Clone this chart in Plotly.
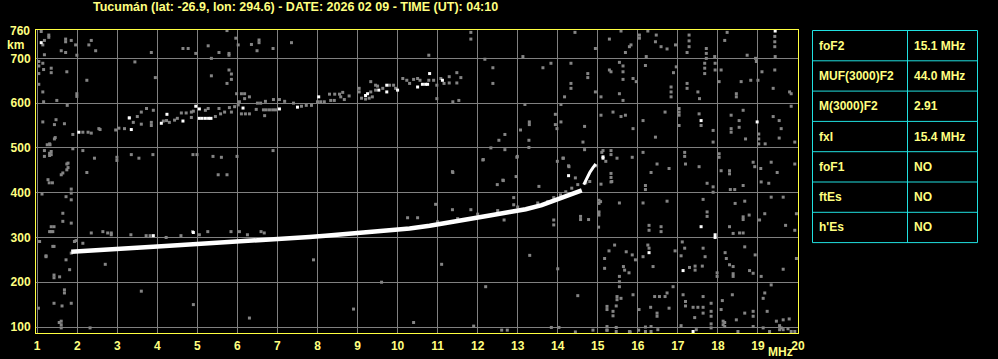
import plotly.graph_objects as go

# ---------------- data ----------------
TITLE = "Tucumán (lat: -26.9, lon: 294.6) - DATE: 2026 02 09 - TIME (UT): 04:10"
X_TICKS = list(range(1, 21))
Y_TICKS = [100, 200, 300, 400, 500, 600, 700]

TABLE_LABELS = ["foF2", "MUF(3000)F2", "M(3000)F2", "fxI", "foF1", "ftEs", "h'Es"]
TABLE_VALUES = ["15.1 MHz", "44.0 MHz", "2.91", "15.4 MHz", "NO", "NO", "NO"]

# main F-trace (white)
main_f = [1.85, 2.3, 3.0, 3.5, 4.0, 4.6, 5.2, 5.8, 6.5, 7.1, 7.8, 8.2, 8.8, 9.3, 9.8,
          10.3, 10.8, 11.3, 11.8, 12.3, 12.8, 13.2, 13.6, 14.0, 14.3, 14.6]
main_h = [268, 270, 274, 277, 280, 283, 286, 289, 293, 297, 301, 304, 308, 311, 315,
          320, 326, 333, 341, 349, 357, 363, 372, 385, 393, 405]
upper_f = [14.65, 14.72, 14.8, 14.88, 14.95]
upper_h = [418, 432, 445, 456, 464]

# grey echoes accompanying the main trace
near_f = [11.0, 11.5, 12.0, 12.5, 13.0, 13.5, 13.75, 13.9, 14.07, 14.2, 14.35, 14.5, 14.7,
          12.9, 12.9, 10.95, 12.66, 13.9, 13.9, 14.57, 14.57, 14.77, 10.25, 10.5]
near_h = [335, 342, 352, 360, 368, 377, 380, 389, 395, 402, 410, 418, 422,
          389, 373, 374, 339, 339, 328, 347, 340, 340, 344, 344]

# second hop (grey)
hop_f = [1.89, 2.14, 2.27, 2.35, 2.54, 2.57, 2.96, 3.04, 3.18, 3.3, 3.4, 3.5, 3.6, 3.73, 3.6,
         3.85, 3.85, 3.9, 4.15, 4.23, 4.3, 4.43, 4.5, 4.6, 4.72, 4.85, 4.9, 4.85, 5.2, 5.27,
         5.45, 5.58, 5.68, 5.54, 5.8, 5.93, 6.02, 5.85, 5.98, 6.1, 6.18, 6.18, 6.3, 6.05, 6.1,
         6.2, 6.3, 6.5, 6.58, 6.7, 6.65, 6.72, 6.8, 6.88, 6.95, 6.9, 7.05, 7.18, 7.4, 7.6,
         7.72, 7.85, 6.47, 6.68,
         8.0, 8.08, 8.17, 8.3, 8.43, 8.55, 8.63, 8.33, 8.42, 8.58, 8.67, 8.79, 9.04, 9.1, 9.2,
         9.29, 9.37, 9.33, 9.33, 9.45, 9.45, 9.5, 9.63, 9.8, 9.9, 9.95, 10.13, 10.23, 10.3,
         10.4, 10.5, 10.56, 10.78, 10.9, 10.98, 11.08, 11.16, 11.29, 11.29, 11.48, 11.58,
         11.48, 9.04]
hop_h = [530, 535, 535, 533, 543, 541, 540, 544, 543, 567, 557, 570, 580, 588, 553,
         557, 550, 584, 560, 561, 557, 562, 566, 578, 578, 580, 582, 568, 584, 588,
         570, 576, 580, 588, 590, 592, 596, 580, 621, 621, 621, 610, 614, 603, 576,
         576, 576, 600, 600, 604, 585, 585, 585, 585, 585, 608, 608, 604, 600, 593,
         595, 595, 586, 572,
         603, 603, 603, 620, 620, 620, 624, 606, 606, 614, 608, 616, 625, 611, 609,
         611, 614, 648, 625, 629, 640, 638, 633, 640, 640, 633, 655, 651, 644,
         653, 655, 651, 651, 651, 640, 655, 644, 659, 645, 668, 657,
         645, 633]
# second hop (white)
hopw_f = [2.04, 3.3, 3.35, 4.1, 4.24, 4.64, 4.96, 5.05, 5.05, 5.12, 5.2, 5.28, 5.34, 6.14,
          7.05, 7.5, 8.03, 9.2, 9.25, 9.53, 9.73, 9.73, 10.0, 10.5, 10.62, 10.7, 10.75,
          10.8, 11.12]
hopw_h = [535, 567, 541, 555, 575, 560, 593, 587, 566, 566, 566, 566, 566, 589,
          587, 591, 614, 617, 621, 629, 640, 625, 629, 636, 642, 642, 642,
          666, 651]

# scattered interference (grey)
noise_f = [
    # 15-20 MHz, upper
    15.29, 15.58, 16.04, 16.04, 16.25, 16.46, 16.44, 15.79, 15.83, 15.69, 16.21, 16.58, 16.73,
    16.94, 17.28, 17.28, 17.28, 17.23, 17.71, 17.71, 17.71, 17.92, 18.23, 18.17, 18.73, 18.94,
    19.42, 19.42, 19.42, 19.43, 15.29, 15.33, 15.54, 15.63, 15.63, 15.63, 15.88, 16.19, 15.96,
    16.96, 16.89, 16.83, 16.83, 16.83, 17.23, 17.23, 17.5, 17.54, 17.67, 17.67, 17.67, 17.93,
    17.93, 18.08, 18.03, 18.58, 18.82, 18.46, 18.46, 18.96, 19.1, 19.0, 19.42, 19.38, 19.79,
    19.83, 15.08, 15.54, 15.63, 15.08, 15.38, 15.58, 15.69, 15.88, 16.13, 16.44, 16.68, 17.03,
    17.03, 17.03, 17.03, 17.53, 17.58, 17.88, 17.88, 18.33, 18.33, 18.33, 18.53, 18.53, 18.63,
    18.69, 19.02, 19.02, 19.02, 19.18, 19.38, 19.53, 19.58, 19.53, 19.83, 19.92, 15.13, 15.33,
    15.33, 15.48, 15.33, 15.33, 15.86, 16.13, 16.48, 16.33, 16.78, 17.17, 17.17, 17.19, 17.53,
    18.03, 18.03, 18.08, 18.29, 18.29, 18.88, 18.92, 19.07, 19.33, 19.48, 19.92,
    # 15-20 MHz, lower
    15.08, 15.33, 16.19, 16.19, 15.03, 15.03, 15.03, 15.03, 15.54, 16.13, 16.28, 16.28, 16.58,
    16.58, 16.73, 17.73, 17.88, 17.88, 17.73, 17.73, 17.63, 18.31, 18.42, 18.63, 18.43, 18.67,
    18.63, 18.63, 18.78, 18.29, 18.38, 18.54, 18.63, 19.08, 19.27, 19.33, 19.63, 19.17, 19.04,
    19.69, 19.92, 19.96, 15.42, 15.28, 15.71, 15.86, 16.25, 16.28, 16.13, 15.94, 15.17, 15.17,
    15.64, 15.67, 15.78, 15.54, 15.54, 15.54, 16.38, 16.93, 17.11, 17.17, 17.08, 17.29, 17.43,
    17.43, 17.63, 17.61, 17.68, 17.98, 17.98, 18.18, 18.21, 18.29, 18.38, 18.38, 18.38, 18.67,
    18.79, 18.88, 18.93, 19.08, 19.33, 19.63, 19.96, 15.48, 15.48, 15.58, 15.88, 16.42, 16.54,
    16.68, 16.73, 17.13, 16.88, 17.63, 15.23, 15.23, 15.38, 15.38, 15.46, 16.03, 16.32, 16.48,
    16.48, 16.78, 17.19, 17.19, 17.38, 17.5, 17.63, 17.42, 17.63, 17.83, 17.83, 17.83, 18.11,
    18.08, 18.36, 18.13, 18.13, 18.46, 18.67, 18.88, 18.88, 19.23, 19.46, 19.63, 19.78, 19.17,
    19.13, 15.23, 15.23, 15.46, 15.79, 16.19, 16.19, 16.33, 16.33, 16.5, 17.08, 17.46, 17.83,
    17.83, 18.17, 18.17, 18.5, 18.88, 19.13, 19.29, 19.54, 19.54, 19.63, 19.58, 19.75, 19.83,
    19.92, 15.23, 15.46, 15.81, 16.02,
    # 1-8 MHz, upper
    1.1, 1.29, 1.29, 1.18, 1.14, 1.71, 1.71, 1.85, 1.96, 2.29, 2.35, 1.6, 1.71, 1.99, 2.46,
    1.04, 1.04, 1.14, 1.16, 1.35, 1.35, 1.04, 1.74, 2.24, 1.14, 1.04, 1.49, 1.16, 1.99, 1.99,
    1.75, 1.14, 1.43, 1.31, 1.43, 1.18, 1.31, 1.31, 1.18, 1.89, 2.14, 2.43, 2.99, 2.99, 1.74,
    1.74, 1.6, 2.24, 3.35, 3.54, 3.89, 4.89, 4.99, 5.39, 5.6, 5.52, 5.99, 5.74, 6.89, 3.85,
    3.44, 3.95, 4.64, 4.77, 4.96, 5.27, 5.54, 5.79, 5.79, 5.96, 6.02, 6.35, 6.54, 6.54, 6.49,
    6.89, 7.35, 5.74, 5.35, 5.35, 5.79, 5.85, 5.85, 5.74, 1.18,
    # 8-15 MHz, upper
    11.83, 11.83, 14.43, 14.94, 10.78, 12.18, 13.13, 12.38, 12.38, 13.63, 13.83, 14.33, 14.33,
    14.33, 14.75, 14.75, 14.17, 14.94, 11.38, 11.53, 10.98, 13.18, 13.94, 13.94, 14.08, 14.08,
    13.29, 13.29, 13.07, 12.68, 12.53, 12.33, 12.68, 13.28, 13.28, 13.98, 14.67, 14.63, 14.67,
    14.13, 14.28, 12.98, 12.13, 11.38, 12.63, 12.96, 11.37, 12.14, 12.49, 12.64, 13.53, 12.99,
    13.99, 14.14, 14.27, 14.44, 14.8, 14.97, 15.1, 15.2, 15.35, 15.07, 15.02, 15.02, 11.37,
    11.83,
    # 1-2 MHz strip, lower
    1.47, 1.68, 1.45, 1.25, 1.32, 1.35, 1.35, 1.77, 1.77, 1.64, 1.27, 1.3, 1.38, 1.85, 1.85,
    1.12, 1.72, 1.85, 1.64, 1.64, 1.85, 1.35, 1.42, 1.35, 1.97, 1.42, 1.22, 1.72, 1.81, 1.42,
    1.42, 1.56, 1.68, 1.68, 1.42, 1.62, 1.85, 1.6, 1.6, 1.6, 1.55, 1.03, 2.32,
    # near-trace speckles, 1-7 MHz
    1.31, 1.39, 2.35, 2.64, 2.76, 2.85, 2.85, 3.34, 3.72, 3.82, 4.22, 4.59, 4.88, 5.05, 5.26,
    5.84, 6.05, 6.25, 6.59, 6.67, 1.39, 1.22, 1.06, 1.85, 1.93, 2.14,
    # sparse lower-middle
    2.7, 3.6, 4.9, 6.3, 7.9, 9.6, 11.1, 12.2, 13.3, 14.0, 14.5, 11.9, 12.6, 12.74, 13.84,
    14.03, 14.44, 14.88, 8.9, 10.4,
]
noise_h = [
    743, 761, 752, 745, 761, 752, 737, 726, 730, 713, 704, 726, 721,
    730, 752, 739, 726, 713, 722, 711, 700, 704, 758, 740, 707, 700,
    749, 737, 726, 704, 674, 670, 691, 683, 670, 653, 655, 684, 648,
    681, 668, 636, 625, 614, 644, 633, 625, 610, 689, 678, 666, 689,
    674, 674, 648, 648, 651, 621, 614, 693, 670, 651, 674, 633, 625,
    621, 614, 621, 606, 573, 580, 570, 573, 543, 561, 524, 580, 588,
    580, 573, 550, 576, 550, 539, 513, 573, 543, 535, 561, 546, 584,
    520, 531, 520, 509, 509, 570, 561, 543, 522, 593, 513, 494, 494,
    485, 477, 443, 434, 479, 490, 464, 445, 454, 490, 481, 464, 458,
    487, 479, 449, 449, 442, 468, 458, 454, 468, 445, 464,
    419, 424, 416, 407, 383, 376, 357, 350, 377, 377, 327, 316, 324,
    313, 381, 421, 413, 401, 357, 347, 385, 407, 407, 416, 376, 381,
    346, 340, 350, 324, 309, 310, 310, 424, 421, 390, 390, 353, 339,
    327, 316, 353, 283, 270, 268, 261, 283, 276, 257, 250, 253, 231,
    235, 227, 221, 213, 201, 190, 235, 270, 290, 276, 259, 233, 236,
    227, 276, 236, 257, 221, 213, 266, 253, 239, 235, 219, 213, 279,
    226, 220, 261, 213, 194, 229, 253, 168, 161, 164, 172, 168, 168,
    168, 176, 172, 190, 168, 146, 139, 135, 125, 147, 139, 144, 131,
    124, 142, 157, 147, 144, 144, 144, 121, 131, 153, 135, 124, 159,
    139, 172, 113, 105, 116, 131, 135, 124, 135, 113, 116, 118, 176,
    164, 101, 93, 90, 90, 100, 90, 101, 90, 94, 103, 94, 107,
    98, 110, 101, 90, 101, 98, 90, 103, 94, 94, 98, 96, 90,
    90, 93, 99, 89, 93,
    760, 752, 747, 740, 730, 743, 737, 740, 730, 730, 740, 717, 713, 707, 717,
    693, 683, 689, 675, 678, 668, 666, 670, 651, 625, 642, 606, 603, 621, 615,
    595, 558, 552, 509, 520, 494, 488, 483, 481, 498, 494, 477, 479, 472, 464,
    451, 440, 445, 485, 477, 485, 485, 485, 481, 479, 440, 481, 440, 494, 713,
    692, 657, 722, 722, 711, 728, 713, 711, 707, 745, 730, 731, 741, 735, 717,
    722, 735, 762, 700, 661, 674, 665, 653, 644, 708,
    758, 743, 758, 722, 707, 698, 704, 679, 644, 679, 689, 689, 644,
    633, 666, 657, 614, 625, 603, 606, 610, 597, 575, 552, 597, 558,
    558, 552, 540, 530, 517, 500, 496, 517, 501, 543, 548, 513, 496,
    477, 458, 479, 473, 445, 428, 436, 447, 474, 418, 427, 414, 481,
    470, 477, 460, 433, 425, 460, 490, 470, 425, 380, 355, 323, 362,
    362,
    563, 554, 523, 507, 507, 492, 485, 466, 456, 444, 429, 422, 422, 408, 399,
    397, 391, 384, 354, 336, 332, 324, 324, 313, 293, 280, 257, 250, 228, 216,
    210, 212, 183, 176, 153, 147, 153, 113, 105, 98, 110, 142, 98,
    313, 313, 310, 313, 310, 310, 306, 306, 304, 304, 300, 304, 313, 306, 313,
    313, 313, 306, 313, 310, 280, 259, 291, 265, 291, 287,
    240, 180, 150, 120, 250, 200, 240, 190, 260, 230, 170, 102, 93, 93, 99,
    99, 89, 93, 140, 110,
]
# scattered interference (white)
noisew_f = [15.13, 17.58, 18.98, 19.43, 16.28, 17.13, 17.58, 17.93, 17.38, 1.1, 14.27, 15.13,
            3.9, 4.9, 17.93]
noisew_h = [477, 561, 558, 761, 266, 226, 324, 300, 90, 735, 438, 480,
            304, 311, 306]

# ---------------- styling ----------------
YEL = "#FFFF80"
BORDER = "#FFFF40"
GRID = "#808080"
CYAN = "#20E0E0"
FONT = "Liberation Sans"

W, H = 998, 359
L, R, T, B = 36, 200, 30, 26
PW, PH = W - L - R, H - T - B


def px(x):
    return (x - L) / PW


def py(y):
    return (H - B - y) / PH


fig = go.Figure()

sq = dict(symbol="square", size=3, line=dict(width=0))
fig.add_trace(go.Scatter(x=noise_f, y=noise_h, mode="markers",
                         marker=dict(color="#848484", **sq), hoverinfo="skip"))
fig.add_trace(go.Scatter(x=hop_f, y=hop_h, mode="markers",
                         marker=dict(color="#848484", **sq), hoverinfo="skip"))
fig.add_trace(go.Scatter(x=near_f, y=near_h, mode="markers",
                         marker=dict(color="#848484", **sq), hoverinfo="skip"))
fig.add_trace(go.Scatter(x=main_f, y=main_h, mode="lines",
                         line=dict(color="white", width=4.5), hoverinfo="skip"))
fig.add_trace(go.Scatter(x=upper_f, y=upper_h, mode="lines",
                         line=dict(color="white", width=3), hoverinfo="skip"))
fig.add_trace(go.Scatter(x=hopw_f, y=hopw_h, mode="markers",
                         marker=dict(color="white", **sq), hoverinfo="skip"))
fig.add_trace(go.Scatter(x=noisew_f, y=noisew_h, mode="markers",
                         marker=dict(color="white", **sq), hoverinfo="skip"))

tickfont = dict(family=FONT, size=12, color=YEL, weight="bold")
fig.update_layout(
    width=W, height=H, margin=dict(l=L, r=R, t=T, b=B, pad=0, autoexpand=False),
    paper_bgcolor="black", plot_bgcolor="black", showlegend=False,
    xaxis=dict(range=[0.97, 20.0], tickvals=X_TICKS, ticktext=[str(v) for v in X_TICKS],
               showgrid=True, gridcolor=GRID, gridwidth=1, zeroline=False,
               showline=True, linecolor=BORDER, linewidth=1, mirror=True, automargin=False,
               ticks="", tickfont=tickfont, ticklabelstandoff=2, fixedrange=True),
    yaxis=dict(range=[86.6, 763.3], tickvals=Y_TICKS, ticktext=[str(v) for v in Y_TICKS],
               showgrid=True, gridcolor=GRID, gridwidth=1, zeroline=False,
               showline=True, linecolor=BORDER, linewidth=1, mirror=True, automargin=False,
               ticks="", tickfont=tickfont, ticklabelstandoff=2, fixedrange=True),
)

ann = []
ann.append(dict(text=TITLE, x=px(295), y=py(7), xref="paper", yref="paper",
                xanchor="center", yanchor="middle", showarrow=False,
                font=dict(family=FONT, size=12.5, color=YEL, weight="bold")))
ann.append(dict(text="760", x=px(32), y=py(31), xref="paper", yref="paper",
                xanchor="right", yanchor="middle", showarrow=False, font=tickfont))
ann.append(dict(text="km", x=px(5), y=py(45), xref="paper", yref="paper",
                xanchor="left", yanchor="middle", showarrow=False, font=tickfont))
ann.append(dict(text="MHz", x=px(780), y=py(352), xref="paper", yref="paper",
                xanchor="center", yanchor="middle", showarrow=False, font=tickfont))

# parameter table
x0, xm, x1 = 812.5, 907.5, 977.5
y_top, row_h = 30.5, 30.3
shapes = []
n = len(TABLE_LABELS)
shapes.append(dict(type="rect", xref="paper", yref="paper",
                   x0=px(x0), x1=px(x1), y0=py(y_top), y1=py(y_top + n * row_h),
                   line=dict(color=CYAN, width=1)))
shapes.append(dict(type="line", xref="paper", yref="paper",
                   x0=px(xm), x1=px(xm), y0=py(y_top), y1=py(y_top + n * row_h),
                   line=dict(color=CYAN, width=1)))
for i in range(1, n):
    yy = y_top + i * row_h
    shapes.append(dict(type="line", xref="paper", yref="paper",
                       x0=px(x0), x1=px(x1), y0=py(yy), y1=py(yy),
                       line=dict(color=CYAN, width=1)))
for i, (lab, val) in enumerate(zip(TABLE_LABELS, TABLE_VALUES)):
    yc = y_top + (i + 0.5) * row_h
    ann.append(dict(text=lab, x=px(817), y=py(yc), xref="paper", yref="paper",
                    xanchor="left", yanchor="middle", showarrow=False, font=tickfont))
    ann.append(dict(text=val, x=px(912), y=py(yc), xref="paper", yref="paper",
                    xanchor="left", yanchor="middle", showarrow=False, font=tickfont))

fig.update_layout(annotations=ann, shapes=shapes)
fig.write_html("out.html")
